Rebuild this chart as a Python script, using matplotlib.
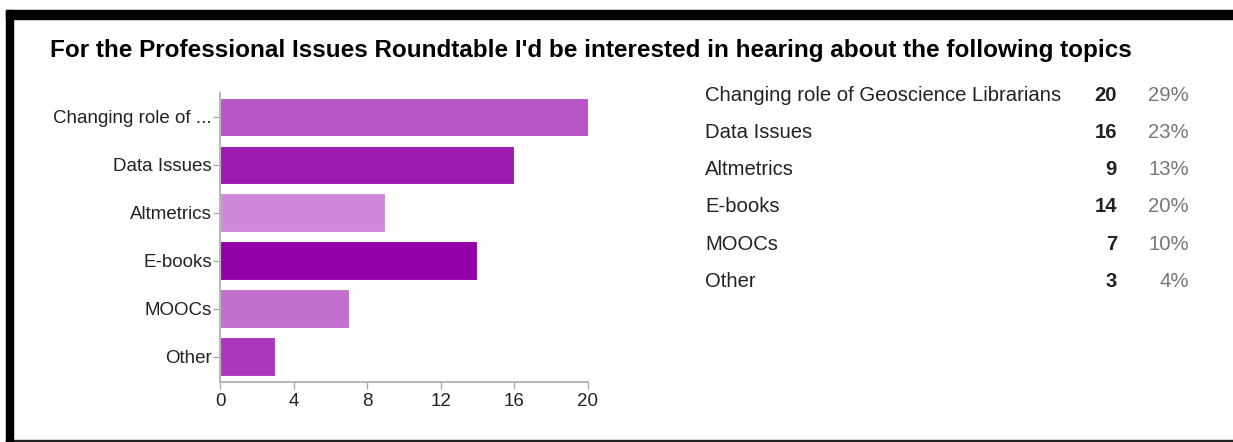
import matplotlib
matplotlib.use("Agg")
import matplotlib.pyplot as plt
from matplotlib.patches import Rectangle

plt.rcParams['font.family'] = ['Liberation Sans', 'DejaVu Sans']

title = "For the Professional Issues Roundtable I'd be interested in hearing about the following topics"
topics = ["Changing role of Geoscience Librarians", "Data Issues", "Altmetrics",
          "E-books", "MOOCs", "Other"]
short_labels = ["Changing role of ...", "Data Issues", "Altmetrics", "E-books", "MOOCs", "Other"]
counts = [20, 16, 9, 14, 7, 3]
percents = ["29%", "23%", "13%", "20%", "10%", "4%"]
bar_colors = ["#b854c6", "#9e1bb2", "#ce8ad8", "#9400a8", "#c36fce", "#ad38be"]
x_ticks = [0, 4, 8, 12, 16, 20]

W, H = 1233, 442
fig = plt.figure(figsize=(W / 100, H / 100), dpi=100)

# frame like the screenshot: thick top + left, thin bottom
fig.patches.append(Rectangle((6 / W, 0), 1 - 6 / W, 2 / H, transform=fig.transFigure, color="#222222"))
fig.patches.append(Rectangle((6 / W, (H - 19) / H), 1 - 6 / W, 9 / H, transform=fig.transFigure, color="black"))
fig.patches.append(Rectangle((6 / W, 0), 7 / W, (H - 10) / H, transform=fig.transFigure, color="black"))

fig.text(50 / W, (H - 57) / H, title, fontsize=17.5, fontweight="bold", va="baseline", ha="left")

# bar chart
ax = fig.add_axes([220 / W, (H - 380.5) / H, 367.7 / W, 287.7 / H])
y = list(range(len(topics)))
ax.barh(y, counts, height=0.8, color=bar_colors, edgecolor="white", linewidth=0.8)
ax.set_xlim(0, 20)
ax.set_ylim(len(topics) - 0.5, -0.5)
ax.set_yticks(y)
ax.set_yticklabels(short_labels)
ax.set_xticks(x_ticks)
for s in ["top", "right"]:
    ax.spines[s].set_visible(False)
for s in ["left", "bottom"]:
    ax.spines[s].set_color("#aaaaaa")
    ax.spines[s].set_linewidth(1.2)
ax.spines["bottom"].set_position(("outward", 1))
ax.tick_params(axis="both", colors="#aaaaaa", labelcolor="#222222", labelsize=13.5, length=5, width=1)
ax.tick_params(axis="x", pad=3)
ax.tick_params(axis="y", pad=1)

# summary table on the right
row_y = [94, 131, 168, 205, 243, 280]
for name, c, p, ry in zip(topics, counts, percents, row_y):
    by = (H - ry - 7) / H
    fig.text(705 / W, by, name, fontsize=14.6, color="#222222", va="baseline", ha="left")
    fig.text(1117 / W, by, str(c), fontsize=14.6, fontweight="bold", color="#222222",
             va="baseline", ha="right")
    fig.text(1189 / W, by, p, fontsize=14.6, color="#777777", va="baseline", ha="right")

fig.savefig("out.png", dpi=100, facecolor="white")
